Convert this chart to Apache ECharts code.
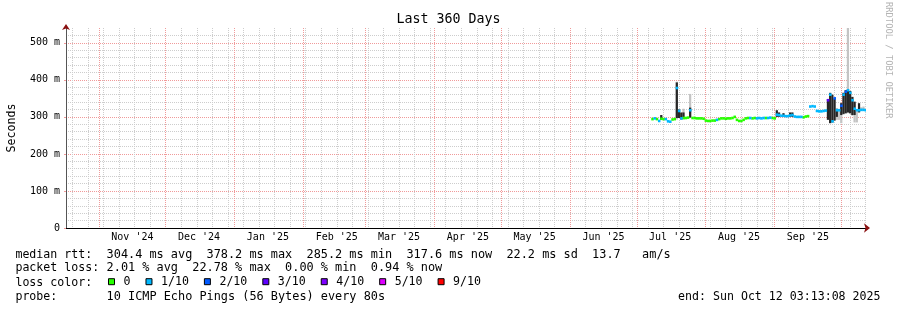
<!DOCTYPE html>
<html><head><meta charset="utf-8">
<script src="https://cdn.jsdelivr.net/npm/echarts@6/dist/echarts.min.js"></script>
<style>html,body{margin:0;padding:0;background:#fff}#c{width:897px;height:310px}</style>
</head><body><div id="c"></div>
<script>
// ---- time frame (days since Sunday 2024-10-13 00:00) ----
const DAY0 = Date.UTC(2024, 9, 13);
const dayOf = (y, m, d, hh = 0, mi = 0, ss = 0) => (Date.UTC(y, m - 1, d, hh, mi, ss) - DAY0) / 86400000;
const endDay = dayOf(2025, 10, 12, 3, 13, 8);
const startDay = endDay - 360;

// ---- axis labels ----
const monthLabels = ["Nov '24", "Dec '24", "Jan '25", "Feb '25", "Mar '25", "Apr '25", "May '25", "Jun '25", "Jul '25", "Aug '25", "Sep '25"];
const monthLabelDates = [[2024,11,16],[2024,12,16],[2025,1,16],[2025,2,16],[2025,3,16],[2025,4,16],[2025,5,16],[2025,6,16],[2025,7,16],[2025,8,16],[2025,9,16]];
const monthStartDates = [[2024,11,1],[2024,12,1],[2025,1,1],[2025,2,1],[2025,3,1],[2025,4,1],[2025,5,1],[2025,6,1],[2025,7,1],[2025,8,1],[2025,9,1],[2025,10,1]];
const yTicks = [0, 100, 200, 300, 400, 500];

// ---- samples (one per day, first at 2025-07-07 12:00) ----
const firstSample = [2025, 7, 7, 12];
const sampleStep = 1;
const medianMs = [294,296,294,289,295,294,294,288,287,293,294,378,316,296,297,297,298,318,297,297,296,296,296,295,290,289,289,290,290,292,294,296,296,295,296,296,297,300,292,289,289,292,296,297,297,296,297,296,297,296,297,297,297,298,297,296,306,305,303,303,302,302,304,305,301,300,300,300,299,301,302,328,329,328,316,315,315,316,317,345,360,288,350,318,318,330,360,368,372,365,345,322,318,318,319,319,318];
const lossTenths = [0,1,0,1,0,0,1,1,1,0,0,1,1,1,0,0,0,1,0,0,0,0,0,0,0,0,0,0,0,1,0,0,0,0,0,0,0,0,0,0,0,0,0,0,1,0,0,1,1,1,1,0,1,1,0,0,1,1,1,1,1,1,1,1,1,1,1,1,0,0,0,1,1,1,1,1,1,1,1,3,1,1,2,1,1,2,1,2,1,1,1,1,1,1,1,1,1];
const _ = null;
const darkLo  = [_,_,_,_,292,_,_,_,_,_,_,297,297,293,294,_,_,298,_,_,_,_,_,_,_,_,_,_,_,_,_,_,_,_,_,_,_,_,_,_,_,_,_,_,_,_,_,_,_,_,_,_,_,_,_,_,300,300,_,300,_,_,300,300,_,_,_,_,_,_,_,_,_,_,_,_,_,_,_,292,283,285,290,300,_,305,308,310,312,310,305,305,_,312,_,_,_];
const darkHi  = [_,_,_,_,305,_,_,_,_,_,_,393,320,312,312,_,_,325,_,_,_,_,_,_,_,_,_,_,_,_,_,_,_,_,_,_,_,_,_,_,_,_,_,_,_,_,_,_,_,_,_,_,_,_,_,_,318,312,_,310,_,_,312,312,_,_,_,_,_,_,_,_,_,_,_,_,_,_,_,348,365,360,350,322,_,337,365,372,375,370,354,341,_,337,_,_,_];
const lightLo = [_,_,_,_,_,_,_,_,_,_,_,293,_,_,294,_,_,297,_,_,_,_,_,_,_,_,_,_,_,_,_,_,_,_,_,_,_,_,_,_,_,_,_,_,_,_,_,_,_,_,_,_,_,_,_,_,_,_,_,_,_,_,_,_,_,_,_,_,_,_,_,_,_,_,_,_,_,_,_,_,_,_,_,292,292,283,306,308,310,308,303,285,285,_,316,316,_];
const lightHi = [_,_,_,_,_,_,_,_,_,_,_,395,_,_,322,_,_,362,_,_,_,_,_,_,_,_,_,_,_,_,_,_,_,_,_,_,_,_,_,_,_,_,_,_,_,_,_,_,_,_,_,_,_,_,_,_,_,_,_,_,_,_,_,_,_,_,_,_,_,_,_,_,_,_,_,_,_,_,_,_,_,_,_,322,320,337,365,372,540,370,354,341,320,_,326,328,_];

// ---- loss colour legend ----
const lossNames = ['0', '1/10', '2/10', '3/10', '4/10', '5/10', '9/10'];
const lossLevels = [0, 1, 2, 3, 4, 5, 9];
const lossColors = ['#26ff00', '#00b8ff', '#0059ff', '#5e00ff', '#7e00ff', '#dd00ff', '#ff0000'];

// ---- legend text ----
const legendLabels = ['median rtt:', 'packet loss:', 'loss color:', 'probe:'];
const legendValues = [
  '304.4 ms avg  378.2 ms max  285.2 ms min  317.6 ms now  22.2 ms sd  13.7   am/s',
  '2.01 % avg  22.78 % max  0.00 % min  0.94 % now',
  '',
  '10 ICMP Echo Pings (56 Bytes) every 80s'
];
const endText = 'end: Sun Oct 12 03:13:08 2025';
const titleText = 'Last 360 Days';
const watermark = 'RRDTOOL / TOBI OETIKER';

// ---------------------------------------------------------------
const MONO = "'DejaVu Sans Mono', monospace";
const sample0 = dayOf(firstSample[0], firstSample[1], firstSample[2], firstSample[3]);
const sampleDay = i => sample0 + i * sampleStep;
const monthMids = monthLabelDates.map(d => dayOf(d[0], d[1], d[2]));
const monthStarts = monthStartDates.map(d => dayOf(d[0], d[1], d[2]));
const sundays = [];
for (let d = Math.ceil(startDay / 7) * 7; d <= endDay; d += 7) sundays.push(d);

function clipTo(params, r) {
  return echarts.graphic.clipRectByRect(r,
    { x: params.coordSys.x, y: params.coordSys.y, width: params.coordSys.width, height: params.coordSys.height });
}

function bandSeries(name, lo, hi, color) {
  const data = [];
  lo.forEach((l, i) => { if (l != null && hi[i] != null) data.push([sampleDay(i), l, hi[i]]); });
  return {
    type: 'custom', name, xAxisIndex: 1, yAxisIndex: 0, silent: true, data,
    encode: { x: 0, y: [1, 2] },
    renderItem: (params, api) => {
      const x = api.value(0);
      const p0 = api.coord([x, api.value(2)]);
      const p1 = api.coord([x + sampleStep, api.value(1)]);
      const shape = clipTo(params, { x: p0[0], y: p0[1], width: p1[0] - p0[0], height: p1[1] - p0[1] });
      return shape ? { type: 'rect', shape, style: { fill: color } } : null;
    }
  };
}

const series = [
  bandSeries('smoke-outer', lightLo, lightHi, '#c4c4c4'),
  bandSeries('smoke-inner', darkLo, darkHi, '#262626')
];
lossLevels.forEach((lvl, j) => {
  const data = [];
  medianMs.forEach((m, i) => {
    let b = 0;
    lossLevels.forEach((L, k) => { if (lossTenths[i] >= L) b = k; });
    if (b === j) data.push([sampleDay(i), m]);
  });
  series.push({
    type: 'custom', name: lossNames[j], xAxisIndex: 1, yAxisIndex: 0, silent: true, data,
    itemStyle: { color: lossColors[j] },
    encode: { x: 0, y: 1 },
    renderItem: (params, api) => {
      const x = api.value(0), v = api.value(1);
      const c = api.coord([x, v]);
      const c2 = api.coord([x + sampleStep, v]);
      const shape = clipTo(params, { x: c[0], y: c[1] - 1.3, width: c2[0] - c[0] + 0.3, height: 2.6 });
      return shape ? { type: 'rect', shape, style: { fill: lossColors[j] } } : null;
    }
  });
});

const lineY = [254.7, 268.3, 282.7, 296.7];
const graphics = [];
legendLabels.forEach((t, i) => {
  graphics.push({ type: 'text', x: 15.4, y: lineY[i], silent: true,
    style: { text: t, font: '11.6px ' + MONO, fill: '#000', textAlign: 'left', textVerticalAlign: 'middle' } });
  if (legendValues[i]) graphics.push({ type: 'text', x: 106.6, y: lineY[i], silent: true,
    style: { text: legendValues[i], font: '11.86px ' + MONO, fill: '#000', textAlign: 'left', textVerticalAlign: 'middle' } });
});
graphics.push({ type: 'text', x: 880.5, y: 296.7, silent: true,
  style: { text: endText, font: '11.6px ' + MONO, fill: '#000', textAlign: 'right', textVerticalAlign: 'middle' } });
graphics.push({ type: 'text', x: 888, y: 2, rotation: -Math.PI / 2, silent: true,
  style: { text: watermark, font: '8.8px ' + MONO, fill: '#b4b4b4', textAlign: 'left', textVerticalAlign: 'middle' } });

const GRAY = '#cdcdcd', RED = '#f09a9a', ARROW = '#8a1010';

const chart = echarts.init(document.getElementById('c'), null, { renderer: 'canvas' });
chart.setOption({
  animation: false,
  backgroundColor: '#fff',
  title: { text: titleText, left: 'center', top: 13, padding: 0,
    textStyle: { fontFamily: MONO, fontSize: 13.3, fontWeight: 'normal', color: '#000' } },
  grid: { left: 66, right: 31, top: 28, bottom: 82, containLabel: false, outerBoundsMode: 'none' },
  xAxis: [
    { // weekly grid + arrow
      type: 'value', min: startDay, max: endDay, position: 'bottom',
      axisLine: { show: true, onZero: false, symbol: ['none', 'arrow'], symbolSize: [7, 6], symbolOffset: [0, 4],
        lineStyle: { color: ARROW, width: 0 } },
      axisTick: { show: false, customValues: sundays },
      axisLabel: { show: false },
      splitLine: { show: true, lineStyle: { color: GRAY, type: [1, 1], width: 1 } }
    },
    { // month grid + labels
      type: 'value', min: startDay, max: endDay, position: 'bottom',
      axisLine: { show: true, onZero: false, lineStyle: { color: '#000', width: 1 } },
      axisTick: { show: false, customValues: monthStarts },
      axisLabel: { show: true, customValues: monthMids, margin: 4, fontFamily: MONO, fontSize: 10, color: '#000',
        formatter: v => { const i = monthMids.findIndex(m => Math.abs(m - v) < 1e-6); return i >= 0 ? monthLabels[i] : ''; } },
      splitLine: { show: true, lineStyle: { color: RED, type: [1, 1], width: 1 } }
    }
  ],
  yAxis: [
    {
      type: 'value', min: 0, max: 540, interval: 100, position: 'left',
      axisLine: { show: true, onZero: false, lineStyle: { color: '#555', width: 1 } },
      axisTick: { show: true, length: 2, customValues: yTicks, lineStyle: { color: RED } },
      axisLabel: { customValues: yTicks, margin: 6, fontFamily: MONO, fontSize: 10, color: '#000',
        formatter: v => v === 0 ? '0' : v + ' m' },
      splitLine: { show: true, lineStyle: { color: RED, type: [1, 1], width: 1 } },
      minorTick: { show: false, splitNumber: 5 },
      minorSplitLine: { show: true, lineStyle: { color: GRAY, type: [1, 1], width: 1 } },
      name: 'Seconds', nameLocation: 'middle', nameGap: 48,
      nameTextStyle: { fontFamily: MONO, fontSize: 11.6, color: '#000' }
    },
    {
      type: 'value', min: 0, max: 540, position: 'left',
      axisLine: { show: true, onZero: false, symbol: ['none', 'arrow'], symbolSize: [6, 6], symbolOffset: [0, 4],
        lineStyle: { color: ARROW, width: 0 } },
      axisTick: { show: false }, axisLabel: { show: false }, splitLine: { show: false }
    }
  ],
  legend: {
    data: lossNames, left: 108, top: 275.7, padding: 0, orient: 'horizontal',
    itemWidth: 6, itemHeight: 6, itemGap: 15, icon: 'rect', selectedMode: false,
    itemStyle: { borderColor: '#000', borderWidth: 1 },
    textStyle: { fontFamily: MONO, fontSize: 11.6, color: '#000', padding: [0, 0, 0, 4] }
  },
  graphic: graphics,
  series
});
</script>
</body></html>
